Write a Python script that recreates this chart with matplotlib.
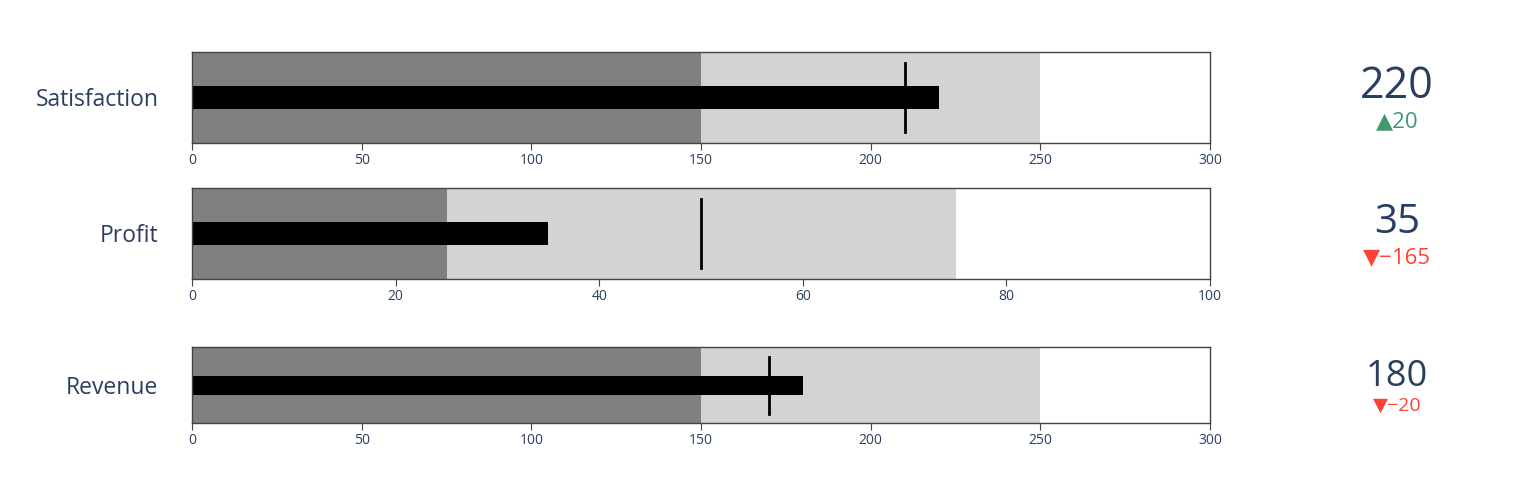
import matplotlib
matplotlib.use("Agg")
import matplotlib.pyplot as plt

# data
names = ["Satisfaction", "Profit", "Revenue"]
values = [220, 35, 180]
references = [200, 200, 200]
thresholds = [210, 50, 170]
steps = [[(0, 150), (150, 250)], [(0, 25), (25, 75)], [(0, 150), (150, 250)]]
ranges = [300, 100, 300]
ticks = [[0, 50, 100, 150, 200, 250, 300], [0, 20, 40, 60, 80, 100], [0, 50, 100, 150, 200, 250, 300]]

step_colors = ["#808080", "#d3d3d3"]
txt = "#2a3f5f"
fam = ["Open Sans", "DejaVu Sans"]

W, H = 1533, 496
fig = plt.figure(figsize=(W / 100, H / 100), dpi=100)

# pixel boxes (top, bottom) for each bullet row
rows_px = [(52, 143), (188, 279), (347, 423)]
num_y = [87, 223, 377]
delta_y = [122, 258, 406]
num_size = [31, 29, 26]
delta_size = [16, 16, 14]
x0, x1 = 192, 1210

for i, name in enumerate(names):
    top, bot = rows_px[i]
    ax = fig.add_axes([x0 / W, 1 - bot / H, (x1 - x0) / W, (bot - top) / H])
    ax.set_xlim(0, ranges[i])
    ax.set_ylim(0, 1)
    for (a, b), c in zip(steps[i], step_colors):
        ax.barh(0.5, b - a, left=a, height=1, color=c, linewidth=0)
    ax.barh(0.5, values[i], height=0.25, color="black", linewidth=0)
    ax.plot([thresholds[i]] * 2, [0.125, 0.875], color="black", lw=2)
    ax.set_yticks([])
    ax.set_xticks(ticks[i])
    ax.tick_params(axis="x", length=5, color="#444444", labelsize=10, labelcolor=txt, pad=2)
    for lab in ax.get_xticklabels():
        lab.set_family(fam)
    for s in ax.spines.values():
        s.set_color("#444444")
        s.set_linewidth(1)
    ax.text(-0.033, 0.5, name, transform=ax.transAxes, ha="right", va="center_baseline",
            fontsize=16.5, color=txt, family=fam)

    fig.text(1397 / W, 1 - num_y[i] / H, str(values[i]), ha="center", va="center",
             fontsize=num_size[i], color=txt, family=fam)
    d = values[i] - references[i]
    if d >= 0:
        s, col = "\u25b2" + str(d), "#3D9970"
    else:
        s, col = "\u25bc\u2212" + str(abs(d)), "#FF4136"
    fig.text(1397 / W, 1 - delta_y[i] / H, s, ha="center", va="center",
             fontsize=delta_size[i], color=col, family=fam)

fig.savefig("out.png", dpi=100)
